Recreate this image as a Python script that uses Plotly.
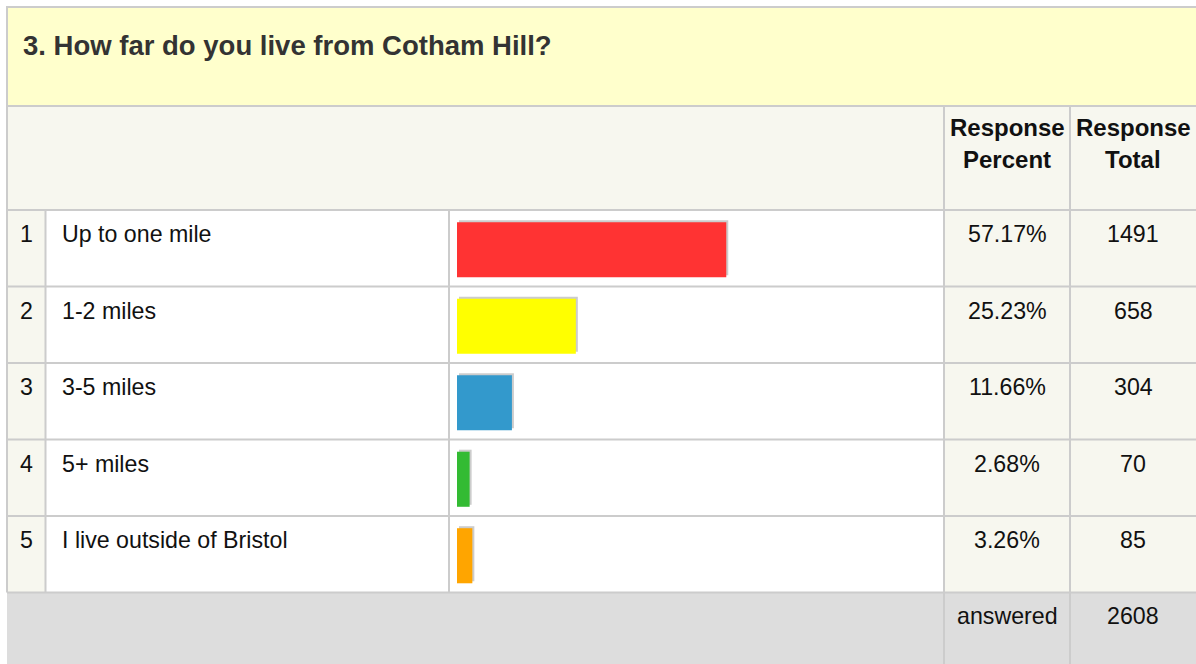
import plotly.graph_objects as go

# ---------------- data ----------------
title_text = "3. How far do you live from Cotham Hill?"
row_numbers = ["1", "2", "3", "4", "5"]
categories = ["Up to one mile", "1-2 miles", "3-5 miles", "5+ miles", "I live outside of Bristol"]
percents = [57.17, 25.23, 11.66, 2.68, 3.26]
totals = [1491, 658, 304, 70, 85]
header_percent = ["Response", "Percent"]
header_total = ["Response", "Total"]
answered_label = "answered"
answered_total = 2608

# ---------------- style ----------------
bar_colors = ["#FF3333", "#FFFF00", "#3399CC", "#33BB33", "#FFA500"]
W, H = 1196, 664
GRID = "#CCCCCC"
BEIGE = "#F7F7EF"
FONT = "Liberation Sans, Arial, sans-serif"
BODY = 23.2

# table geometry (pixels)
left, right = 7, W
top, title_bottom, header_bottom = 7, 106, 210
row_h = 76.5
rows_bottom = header_bottom + row_h * len(categories)
col_num, col_label, col_bar, col_pct, col_tot = 45.5, 449, 944, 1070, W
bar_x0, bar_x1 = 457, 928

fig = go.Figure()

def py(y):
    return 1 - y / H

# shadow bars (behind)
fig.add_trace(go.Bar(
    y=categories, x=percents, orientation="h", width=0.72,
    marker=dict(color=GRID, line=dict(width=0)),
    xaxis="x2", yaxis="y2", hoverinfo="skip", showlegend=False))
# colored bars
fig.add_trace(go.Bar(
    y=categories, x=percents, orientation="h", width=0.72,
    marker=dict(color=bar_colors, line=dict(width=0)),
    xaxis="x3", yaxis="y3", hoverinfo="skip", showlegend=False))

shapes = []
def rect(x0, y0, x1, y1, fill):
    shapes.append(dict(type="rect", xref="x", yref="y", x0=x0, y0=y0, x1=x1, y1=y1,
                       fillcolor=fill, line=dict(width=0), layer="below"))
def line(x0, y0, x1, y1):
    shapes.append(dict(type="line", xref="x", yref="y", x0=x0, y0=y0, x1=x1, y1=y1,
                       line=dict(color=GRID, width=2), layer="below"))

rect(left, top, right, title_bottom, "#FFFFCC")
rect(left, title_bottom, right, header_bottom, BEIGE)
rect(left, header_bottom, col_num, rows_bottom, BEIGE)
rect(col_num, header_bottom, col_bar, rows_bottom, "#FFFFFF")
rect(col_bar, header_bottom, right, rows_bottom, BEIGE)
rect(left, rows_bottom, right, H, "#DDDDDD")

line(left - 1, top, right, top)
line(left, top, left, rows_bottom)
line(left, title_bottom, right, title_bottom)
for i in range(len(categories) + 1):
    yy = header_bottom + i * row_h
    line(left, yy, right, yy)
line(col_num, header_bottom, col_num, rows_bottom)
line(col_label, header_bottom, col_label, rows_bottom)
line(col_bar, title_bottom, col_bar, H)
line(col_pct, title_bottom, col_pct, H)

ann = []
def text(x, y, s, anchor="center", bold=False, color="#111111", size=BODY, yref="y", yshift=0):
    ann.append(dict(x=x, y=y, xref="x", yref=yref, text=("<b>%s</b>" % s) if bold else s,
                    showarrow=False, xanchor=anchor, yanchor="middle", yshift=yshift,
                    font=dict(family=FONT, size=size, color=color)))

text(21, 45, title_text, anchor="left", bold=True, color="#333333", size=27.5)
cx_pct = (col_bar + col_pct) / 2
cx_tot = (col_pct + col_tot) / 2
text(cx_pct + 0.5, 127, header_percent[0], bold=True, size=24)
text(cx_pct, 159, header_percent[1], bold=True, size=24)
text(cx_tot + 0.5, 127, header_total[0], bold=True, size=24)
text(cx_tot, 159, header_total[1], bold=True, size=24)

for i, cat in enumerate(categories):
    ys = 15.5
    text(26, cat, row_numbers[i], yref="y3", yshift=ys)
    text(60, cat, cat, anchor="left", yref="y3", yshift=ys)
    text(cx_pct, cat, "%.2f%%" % percents[i], yref="y3", yshift=ys)
    text(cx_tot, cat, str(totals[i]), yref="y3", yshift=ys)

text(cx_pct, 616, answered_label)
text(cx_tot, 616, str(answered_total))

shift = 1.5
fig.update_layout(
    width=W, height=H, autosize=False,
    margin=dict(l=0, r=0, t=0, b=0, pad=0),
    paper_bgcolor="#FFFFFF", plot_bgcolor="rgba(0,0,0,0)",
    barmode="overlay", showlegend=False,
    shapes=shapes, annotations=ann,
    xaxis=dict(range=[0, W], domain=[0, 1], visible=False, fixedrange=True),
    yaxis=dict(range=[H, 0], domain=[0, 1], visible=False, fixedrange=True),
    xaxis2=dict(range=[0, 100], domain=[(bar_x0 + 2) / W, (bar_x1 + 2) / W],
                visible=False, fixedrange=True, anchor="y2"),
    yaxis2=dict(domain=[py(rows_bottom + shift - 2), py(header_bottom + shift - 2)],
                autorange="reversed", visible=False, fixedrange=True, anchor="x2",
                type="category"),
    xaxis3=dict(range=[0, 100], domain=[bar_x0 / W, bar_x1 / W],
                visible=False, fixedrange=True, anchor="y3"),
    yaxis3=dict(domain=[py(rows_bottom + shift), py(header_bottom + shift)],
                autorange="reversed", visible=False, fixedrange=True, anchor="x3",
                type="category"),
)

fig.write_html("out.html", config={"displayModeBar": False, "staticPlot": True},
               post_script="document.body.style.margin='0';")
